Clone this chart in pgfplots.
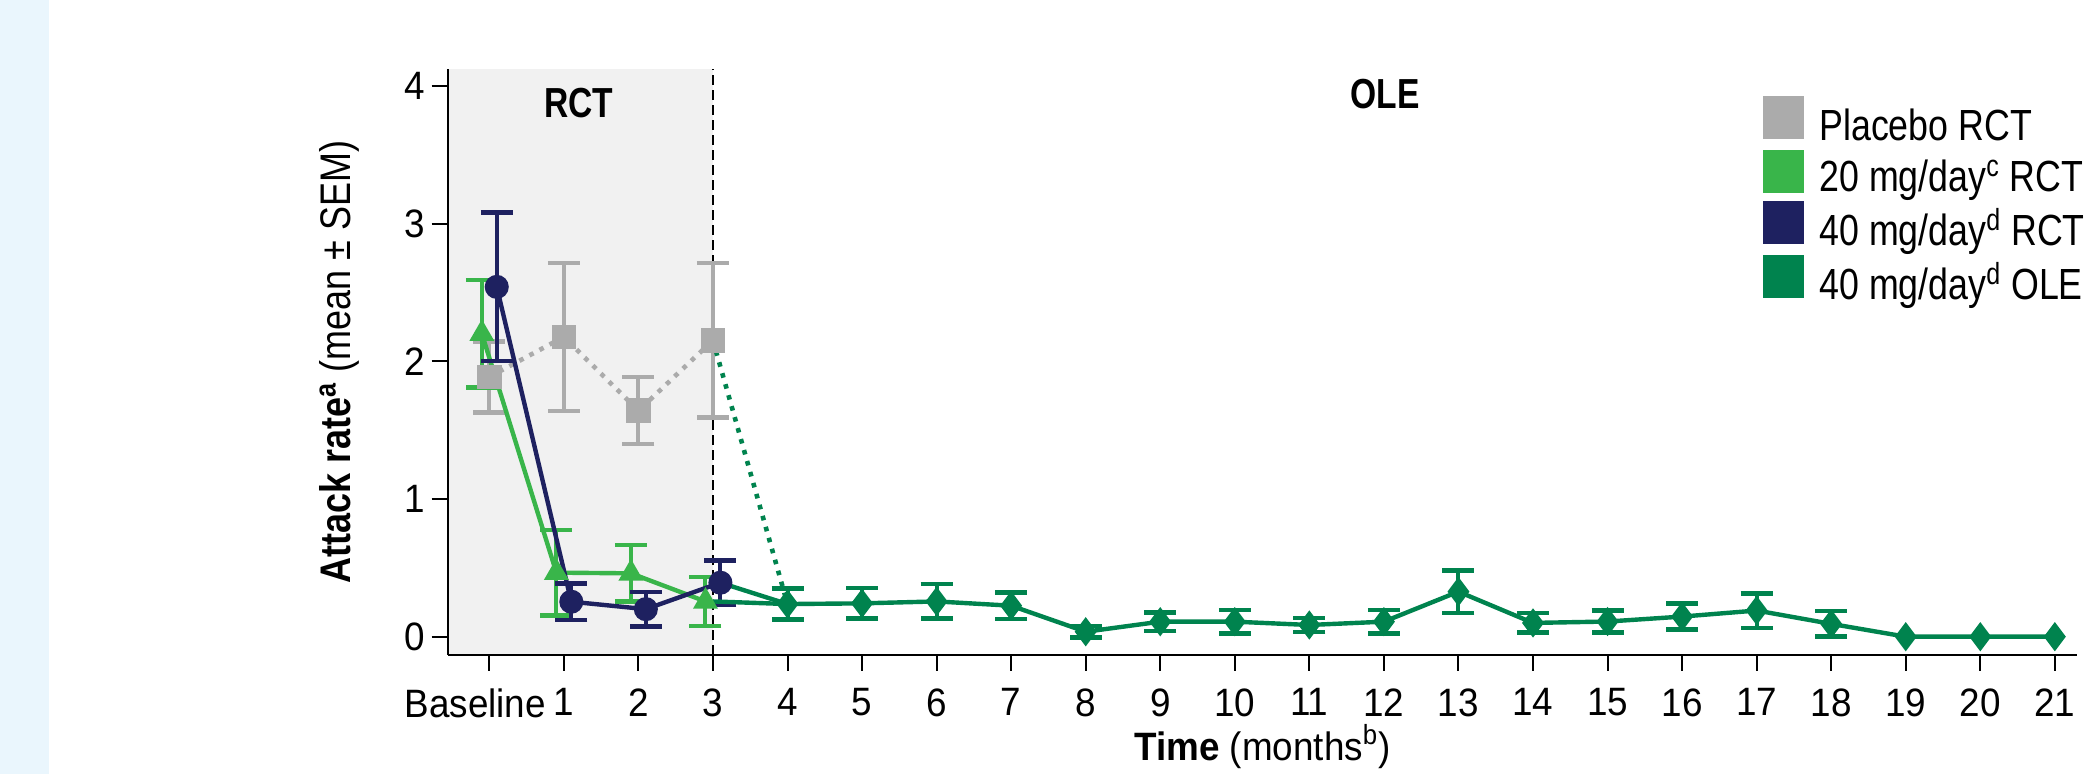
\documentclass[border=0pt]{standalone}
\usepackage{pgfplots}
\usepackage{pgfplotstable}
\pgfplotsset{compat=1.18}
\usepackage{fontspec}
\setmainfont{Liberation Sans}
\newfontfamily\tickfam[FakeStretch=0.93]{Liberation Sans}
\newfontfamily\ylabfam[FakeStretch=0.84]{Liberation Sans}
\newfontfamily\legfam[FakeStretch=0.82]{Liberation Sans}
\newfontfamily\regfam[FakeStretch=0.80]{Liberation Sans}

\definecolor{placebo}{HTML}{ABABAB}
\definecolor{lgreen}{HTML}{39B54A}
\definecolor{navy}{HTML}{1E2160}
\definecolor{ole}{HTML}{00834E}
\definecolor{shadegray}{HTML}{F1F1F1}
\definecolor{stripblue}{HTML}{EAF6FD}

\pgfplotstableread{
x y e
0 1.886 0.258
1 2.177 0.537
2 1.641 0.243
3 2.152 0.560
}\placebotab

\pgfplotstableread{
x y e
-0.1 2.200 0.390
0.9 0.465 0.310
1.9 0.460 0.205
2.9 0.256 0.178
}\lowtab

\pgfplotstableread{
x y e
0.1 2.540 0.540
1.1 0.254 0.131
2.1 0.200 0.125
3.1 0.392 0.162
}\hightab

\pgfplotstableread{
x y e
4 0.237 0.112
5 0.242 0.110
6 0.256 0.125
7 0.225 0.097
8 0.036 0.042
9 0.109 0.067
10 0.109 0.085
11 0.085 0.050
12 0.109 0.085
13 0.327 0.153
14 0.100 0.070
15 0.110 0.080
16 0.146 0.095
17 0.190 0.125
18 0.093 0.093
19 0 0
20 0 0
21 0 0
}\oletab

\begin{document}
\begin{tikzpicture}
\useasboundingbox (0,0) rectangle (1042pt,387pt);
\fill[stripblue] (0,0) rectangle (24.5pt,387pt);
\begin{axis}[
  at={(223.85pt,59.65pt)}, anchor=south west,
  scale only axis, width=814.75pt, height=292.7pt,
  xmin=-0.558, xmax=21.3, ymin=-0.1307, ymax=4.12,
  axis lines=left, axis line style={-, line width=1pt, black},
  axis on top,
  tick align=outside, major tick length=8pt,
  tick style={line width=1pt, black},
  xtick={0,1,2,3,4,5,6,7,8,9,10,11,12,13,14,15,16,17,18,19,20,21},
  xticklabels={{\hspace*{-14pt}Baseline},1,2,3,4,5,6,7,8,9,10,11,12,13,14,15,16,17,18,19,20,21},
  ytick={0,1,2,3,4},
  /pgf/number format/assume math mode=true,
  ticklabel style={font=\tickfam\fontsize{19.8pt}{20pt}\selectfont},
  xticklabel style={inner sep=0pt, yshift=-8.8pt},
  yticklabel style={inner sep=0pt, xshift=-3.35pt},
  xlabel={{\bfseries Time} (months\textsuperscript{b})},
  every axis x label/.style={at={(axis description cs:0.5,-0.1799)}, anchor=base, inner sep=0pt, font=\tickfam\fontsize{19.8pt}{20pt}\selectfont},
  ylabel={{\bfseries Attack rate\textsuperscript{a}} (mean ± SEM)},
  every axis y label/.style={at={(axis description cs:-0.0595,0.5)}, rotate=90, anchor=base, inner sep=0pt, font=\ylabfam\fontsize{21.4pt}{22pt}\selectfont},
  legend image code/.code={\fill[#1, draw=none] (0pt,-8pt) rectangle (20.5pt,13.5pt); \path (26pt,0pt);},
  legend cell align=left,
  legend style={at={(axis description cs:0.8072,0.9544)}, anchor=north west,
    draw=none, fill=none, inner sep=0pt, outer sep=0pt, row sep=1.5pt,
    font=\legfam\fontsize{21.8pt}{22pt}\selectfont},
]
\fill[shadegray] (axis cs:-0.558,-0.1307) rectangle (axis cs:3,4.12);
\draw[black, line width=1pt, dash pattern=on 5pt off 2.5pt] (axis cs:3,-0.1307) -- (axis cs:3,4.12);

\addlegendimage{fill=placebo}\addlegendentry{Placebo RCT\vphantom{y\textsuperscript{d}}}
\addlegendimage{fill=lgreen}\addlegendentry{20 mg/day\textsuperscript{c} RCT}
\addlegendimage{fill=navy}\addlegendentry{40 mg/day\textsuperscript{d} RCT}
\addlegendimage{fill=ole}\addlegendentry{40 mg/day\textsuperscript{d} OLE}

\addplot[forget plot, placebo, line width=2.3pt, dash pattern=on 2.3pt off 3.4pt,
  mark=square*, mark size=5pt, mark options={solid},
  error bars/.cd, y dir=both, y explicit,
  error bar style={solid, line width=2pt},
  error mark options={rotate=90, mark size=8pt, line width=2.2pt, solid}]
  table[x=x, y=y, y error=e] {\placebotab};

\addplot[forget plot, lgreen, line width=2.2pt, mark=triangle*, mark size=5pt,
  error bars/.cd, y dir=both, y explicit,
  error bar style={solid, line width=2pt},
  error mark options={rotate=90, mark size=8pt, line width=2.2pt, solid}]
  table[x=x, y=y, y error=e] {\lowtab};

\addplot[forget plot, navy, line width=2.2pt, mark=*, mark size=4.9pt,
  error bars/.cd, y dir=both, y explicit,
  error bar style={solid, line width=2pt},
  error mark options={rotate=90, mark size=8pt, line width=2.2pt, solid}]
  table[x=x, y=y, y error=e] {\hightab};

\addplot[forget plot, ole, line width=2.3pt, dash pattern=on 2.3pt off 3.4pt] coordinates {(3,2.152) (4,0.237)};
\addplot[forget plot, ole, line width=2.2pt] coordinates {(3,0.256) (4,0.237)};
\addplot[forget plot, ole, line width=2.2pt] coordinates {(3.1,0.392) (4,0.237)};

\addplot[forget plot, ole, only marks, mark=none, restrict x to domain=4:18,
  error bars/.cd, y dir=both, y explicit,
  error bar style={solid, line width=2pt},
  error mark options={rotate=90, mark size=8pt, line width=2.2pt, solid}]
  table[x=x, y=y, y error=e] {\oletab};

\addplot[forget plot, ole, line width=2.2pt, mark=diamond*, mark size=5.5pt]
  table[x=x, y=y] {\oletab};

\node[inner sep=0pt, font=\regfam\bfseries\fontsize{21pt}{22pt}\selectfont] at (axis cs:1.2,3.874) {RCT};
\node[inner sep=0pt, font=\regfam\bfseries\fontsize{21pt}{22pt}\selectfont] at (axis cs:12.02,3.943) {OLE};
\end{axis}
\end{tikzpicture}
\end{document}
